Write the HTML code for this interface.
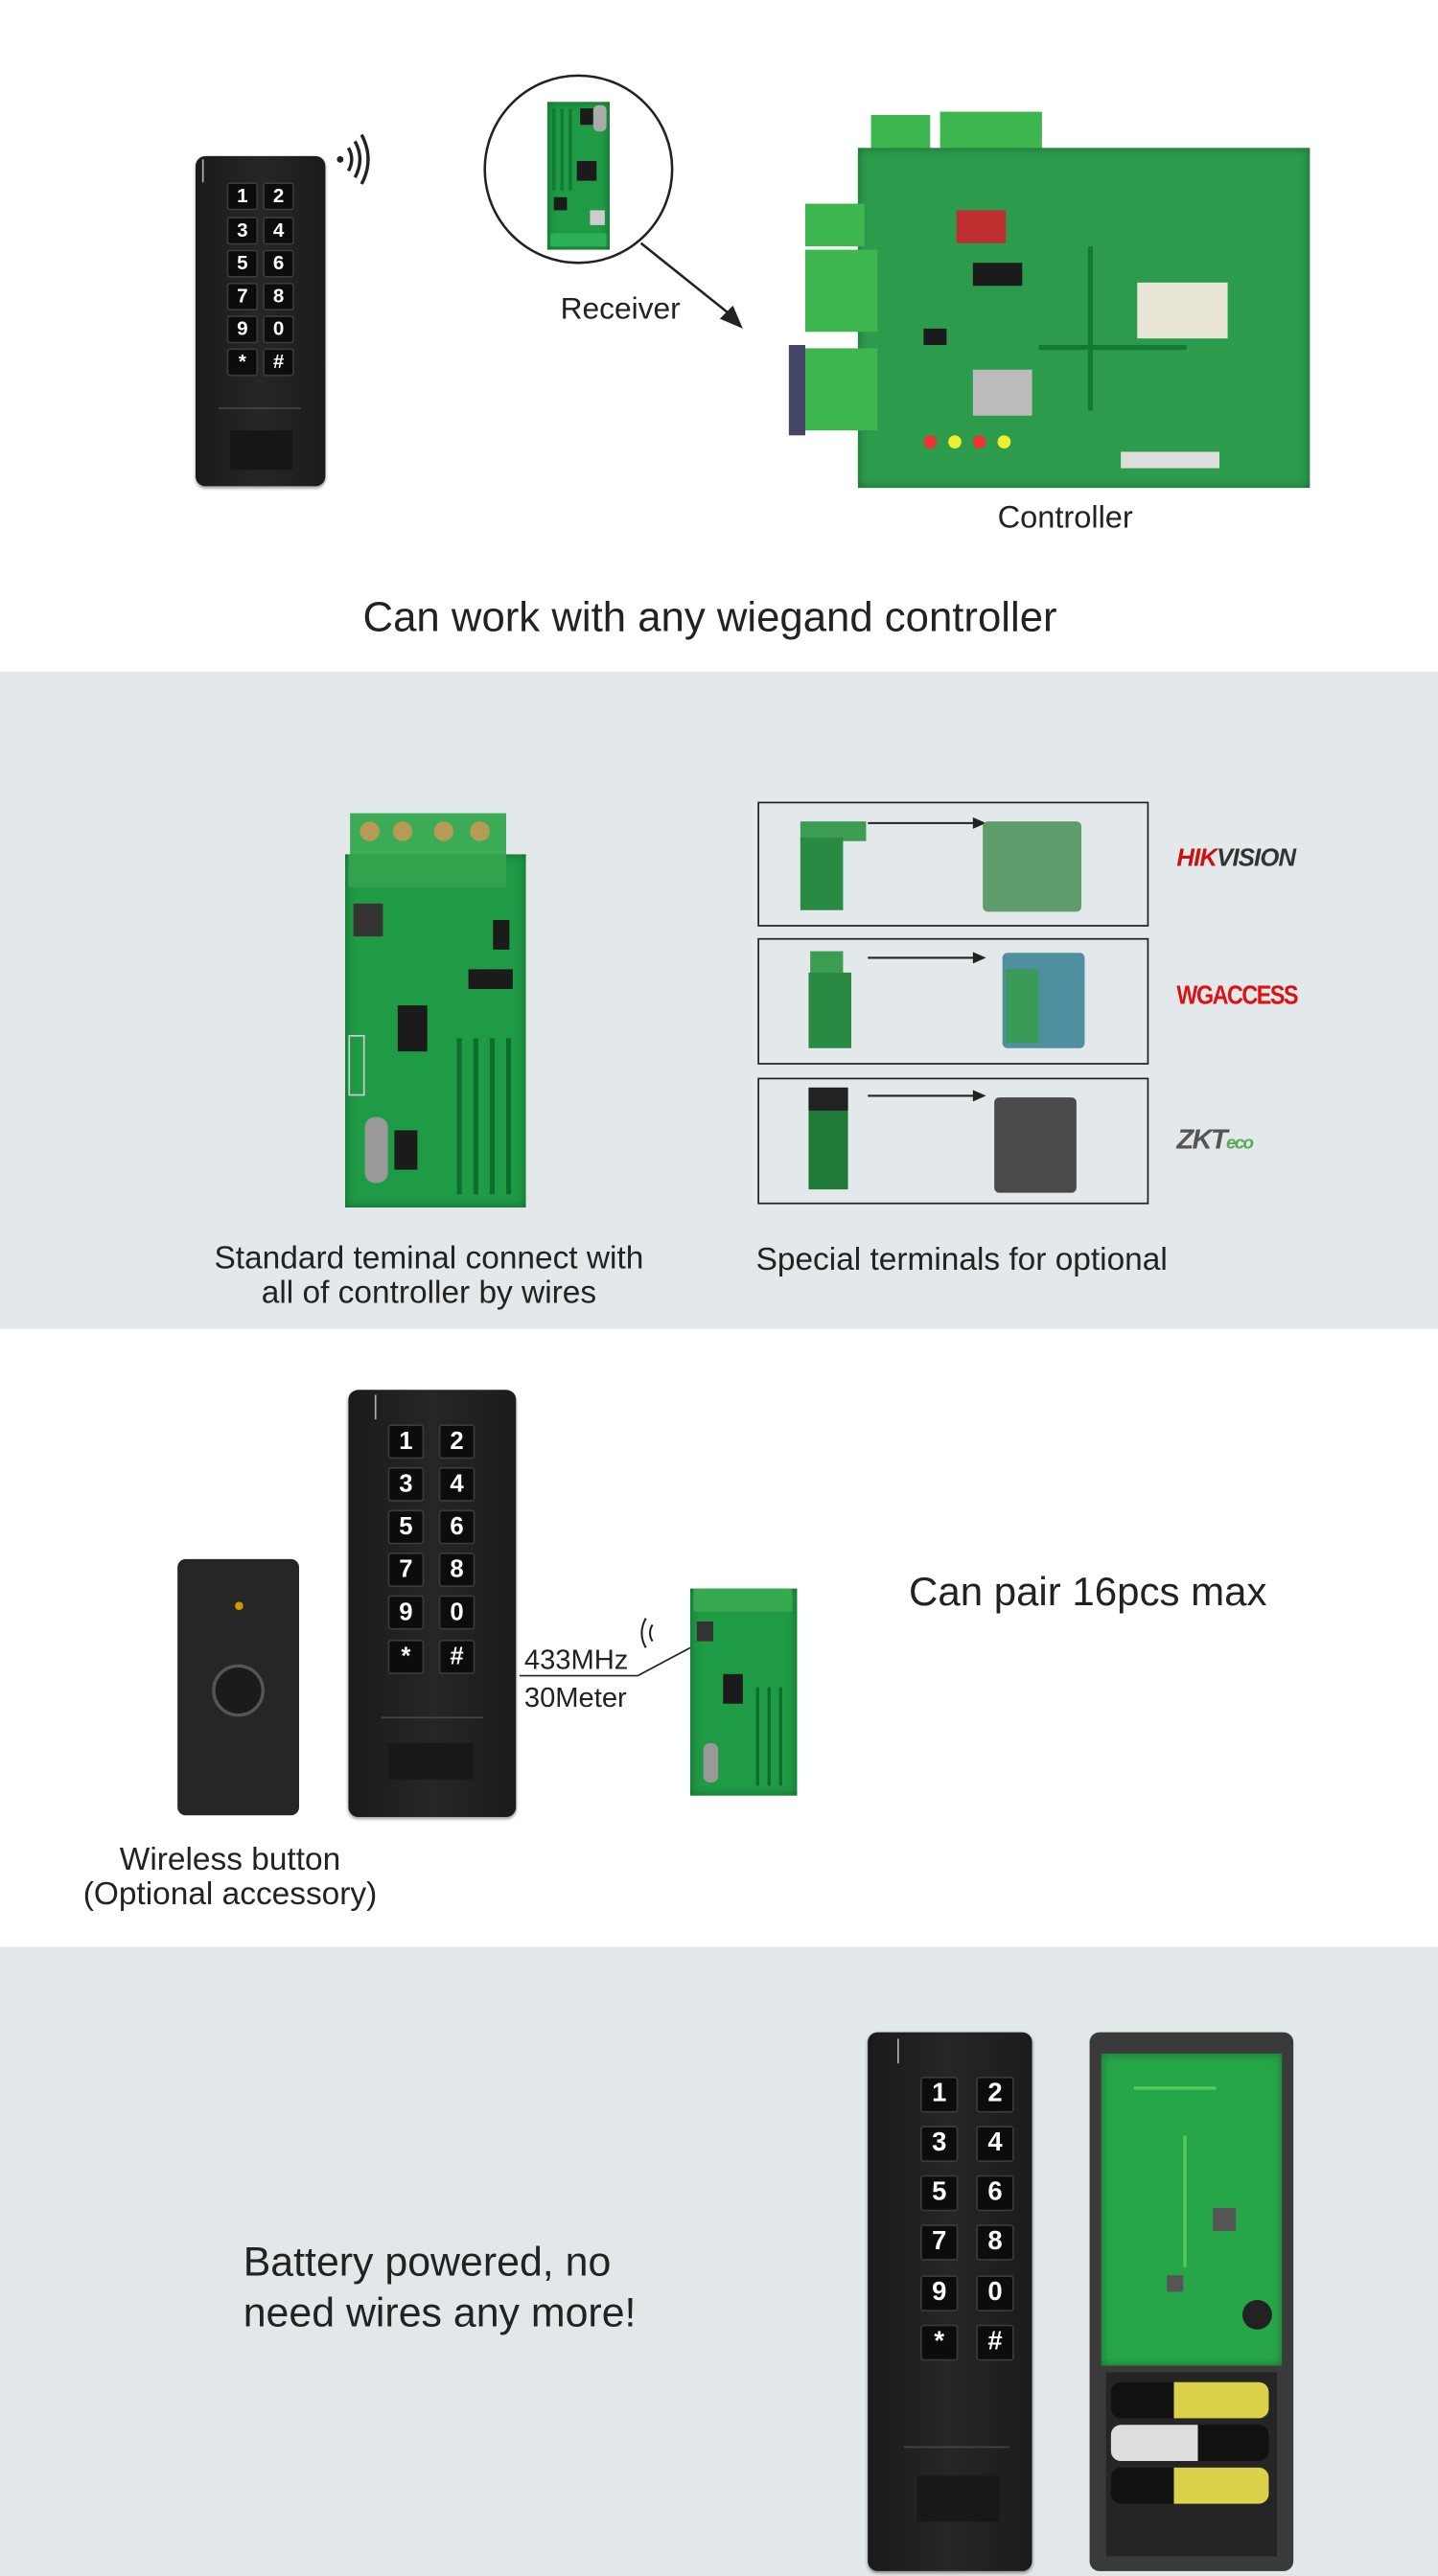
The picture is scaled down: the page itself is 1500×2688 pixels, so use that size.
<!DOCTYPE html>
<html><head><meta charset="utf-8"><style>
html,body{margin:0;padding:0;width:1500px;height:2688px;overflow:hidden;background:#fff}
#r{position:absolute;left:0;top:0;width:875px;height:1568px;transform:scale(1.7142857);transform-origin:0 0;font-family:"Liberation Sans",sans-serif;color:#222}
.a{position:absolute}
.kp{position:absolute;background:linear-gradient(90deg,#1a1a1a,#262626 50%,#1b1b1b);border-radius:6px;box-shadow:0 1px 2px rgba(0,0,0,.4)}
.k{position:absolute;background:#0c0c0c;border:1px solid #3a3a3a;border-radius:2px;color:#fff;font-weight:bold;text-align:center;box-sizing:border-box}
.pcb{position:absolute;background:#1f9a45;box-shadow:inset 0 0 6px rgba(0,0,0,.35)}
.chip{position:absolute;background:#1b1b1b}
.tr{position:absolute;background:#137a33}
.t{position:absolute;white-space:nowrap}
.box{position:absolute;border:1.5px solid #222;box-sizing:border-box}
</style></head><body><div id="r">

<div class="a" style="left:0;top:0;width:875px;height:409px;background:#fff"></div>
<div class="a" style="left:0;top:409px;width:875px;height:400px;background:#e3e8eb"></div>
<div class="a" style="left:0;top:809px;width:875px;height:376px;background:#fff"></div>
<div class="a" style="left:0;top:1185px;width:875px;height:383px;background:#e2e7ea"></div>

<!-- ===== Section 1 ===== -->
<div class="kp" style="left:119px;top:95px;width:79px;height:201px">
  <div class="a" style="left:4px;top:2px;width:1px;height:14px;background:#aaa"></div>
  <div class="k" style="left:19px;top:16px;width:19px;height:17px;font-size:12px;line-height:15px">1</div>
  <div class="k" style="left:41px;top:16px;width:19px;height:17px;font-size:12px;line-height:15px">2</div>
  <div class="k" style="left:19px;top:37px;width:19px;height:17px;font-size:12px;line-height:15px">3</div>
  <div class="k" style="left:41px;top:37px;width:19px;height:17px;font-size:12px;line-height:15px">4</div>
  <div class="k" style="left:19px;top:57px;width:19px;height:17px;font-size:12px;line-height:15px">5</div>
  <div class="k" style="left:41px;top:57px;width:19px;height:17px;font-size:12px;line-height:15px">6</div>
  <div class="k" style="left:19px;top:77px;width:19px;height:17px;font-size:12px;line-height:15px">7</div>
  <div class="k" style="left:41px;top:77px;width:19px;height:17px;font-size:12px;line-height:15px">8</div>
  <div class="k" style="left:19px;top:97px;width:19px;height:17px;font-size:12px;line-height:15px">9</div>
  <div class="k" style="left:41px;top:97px;width:19px;height:17px;font-size:12px;line-height:15px">0</div>
  <div class="k" style="left:19px;top:117px;width:19px;height:17px;font-size:12px;line-height:15px">*</div>
  <div class="k" style="left:41px;top:117px;width:19px;height:17px;font-size:12px;line-height:15px">#</div>
  <div class="a" style="left:14px;top:153px;width:50px;height:1px;background:#444"></div>
  <div class="a" style="left:21px;top:167px;width:38px;height:24px;background:#161616"></div>
</div>
<svg class="a" style="left:200px;top:80px" width="40" height="40" viewBox="0 0 40 40">
  <circle cx="7" cy="17" r="2" fill="#222"/>
  <path d="M12 10 Q16 17 12 24" stroke="#222" stroke-width="2" fill="none"/>
  <path d="M16 6 Q22 17 16 28" stroke="#222" stroke-width="2" fill="none"/>
  <path d="M20 2 Q28 17 20 32" stroke="#222" stroke-width="2" fill="none"/>
</svg>
<svg class="a" style="left:290px;top:44px" width="170" height="170" viewBox="0 0 170 170">
  <circle cx="62" cy="59" r="57" fill="#fff" stroke="#222" stroke-width="1.5"/>
  <line x1="100" y1="104" x2="155" y2="148" stroke="#222" stroke-width="1.5"/>
  <polygon points="162,156 148,150 156,142" fill="#222"/>
</svg>
<div class="pcb" style="left:333px;top:62px;width:38px;height:90px">
  <div class="tr" style="left:3px;top:4px;width:2px;height:50px"></div>
  <div class="tr" style="left:8px;top:4px;width:2px;height:50px"></div>
  <div class="tr" style="left:13px;top:4px;width:2px;height:50px"></div>
  <div class="chip" style="left:20px;top:4px;width:8px;height:10px"></div>
  <div class="a" style="left:28px;top:2px;width:8px;height:16px;background:#aaa;border-radius:3px"></div>
  <div class="chip" style="left:18px;top:36px;width:12px;height:12px"></div>
  <div class="chip" style="left:4px;top:58px;width:8px;height:8px"></div>
  <div class="a" style="left:26px;top:66px;width:9px;height:9px;background:#ccc"></div>
  <div class="a" style="left:2px;top:80px;width:34px;height:8px;background:#2bb055"></div>
</div>
<div class="t" style="left:341px;top:177px;font-size:18.5px">Receiver</div>

<div class="a" style="left:530px;top:70px;width:36px;height:24px;background:#3db64f"></div>
<div class="a" style="left:572px;top:68px;width:62px;height:26px;background:#3db64f"></div>
<div class="a" style="left:578px;top:90px;width:50px;height:22px;background:#2e9c41"></div>
<div class="a" style="left:540px;top:90px;width:20px;height:20px;background:#2e9c41"></div>
<div class="pcb" style="left:522px;top:90px;width:275px;height:207px;background:#2c9b4c">
  <div class="a" style="left:170px;top:82px;width:55px;height:34px;background:#e8e5d6"></div>
  <div class="a" style="left:70px;top:135px;width:36px;height:28px;background:#bbb"></div>
  <div class="chip" style="left:70px;top:70px;width:30px;height:14px"></div>
  <div class="chip" style="left:40px;top:110px;width:14px;height:10px"></div>
  <div class="a" style="left:60px;top:38px;width:30px;height:20px;background:#bd2f2f"></div>
  <div class="tr" style="left:110px;top:120px;width:90px;height:3px"></div>
  <div class="tr" style="left:140px;top:60px;width:3px;height:100px"></div>
  <div class="a" style="left:160px;top:185px;width:60px;height:10px;background:#ddd"></div>
  <div class="a" style="left:40px;top:175px;width:8px;height:8px;background:#e33;border-radius:50%"></div>
  <div class="a" style="left:55px;top:175px;width:8px;height:8px;background:#ee3;border-radius:50%"></div>
  <div class="a" style="left:70px;top:175px;width:8px;height:8px;background:#e33;border-radius:50%"></div>
  <div class="a" style="left:85px;top:175px;width:8px;height:8px;background:#ee3;border-radius:50%"></div>
</div>
<div class="a" style="left:490px;top:124px;width:36px;height:26px;background:#3db64f"></div>
<div class="a" style="left:490px;top:152px;width:44px;height:50px;background:#3db64f"></div>
<div class="a" style="left:490px;top:212px;width:44px;height:50px;background:#3db64f"></div>
<div class="a" style="left:480px;top:210px;width:10px;height:55px;background:#446"></div>
<div class="t" style="left:607px;top:305px;font-size:19px">Controller</div>
<div class="t" style="left:0;top:362px;width:864px;text-align:center;font-size:25.5px">Can work with any wiegand controller</div>

<!-- ===== Section 2 ===== -->
<div class="a" style="left:213px;top:495px;width:95px;height:26px;background:#3cab55"></div>
<div class="a" style="left:219px;top:500px;width:12px;height:12px;border-radius:50%;background:#b59b55"></div>
<div class="a" style="left:239px;top:500px;width:12px;height:12px;border-radius:50%;background:#b59b55"></div>
<div class="a" style="left:264px;top:500px;width:12px;height:12px;border-radius:50%;background:#b59b55"></div>
<div class="a" style="left:286px;top:500px;width:12px;height:12px;border-radius:50%;background:#b59b55"></div>
<div class="pcb" style="left:210px;top:520px;width:110px;height:215px">
  <div class="a" style="left:2px;top:0;width:96px;height:20px;background:#32a34c"></div>
  <div class="chip" style="left:5px;top:30px;width:18px;height:20px;background:#333"></div>
  <div class="chip" style="left:32px;top:92px;width:18px;height:28px"></div>
  <div class="chip" style="left:75px;top:70px;width:14px;height:12px"></div>
  <div class="chip" style="left:88px;top:70px;width:14px;height:12px"></div>
  <div class="chip" style="left:90px;top:40px;width:10px;height:18px"></div>
  <div class="tr" style="left:68px;top:112px;width:3px;height:95px;background:#0d6e2b"></div>
  <div class="tr" style="left:78px;top:112px;width:3px;height:95px;background:#0d6e2b"></div>
  <div class="tr" style="left:88px;top:112px;width:3px;height:95px;background:#0d6e2b"></div>
  <div class="tr" style="left:98px;top:112px;width:3px;height:95px;background:#0d6e2b"></div>
  <div class="a" style="left:12px;top:160px;width:14px;height:40px;background:#999;border-radius:6px"></div>
  <div class="chip" style="left:30px;top:168px;width:14px;height:24px"></div>
  <div class="a" style="left:2px;top:110px;width:8px;height:35px;border:1px solid #ccc"></div>
</div>
<div class="t" style="left:111px;top:756px;width:300px;text-align:center;font-size:19.5px;line-height:21px">Standard teminal connect with<br>all of controller by wires</div>

<div class="box" style="left:461px;top:488px;width:238px;height:76px"></div>
<div class="box" style="left:461px;top:571px;width:238px;height:77px"></div>
<div class="box" style="left:461px;top:656px;width:238px;height:77px"></div>
<div class="a" style="left:487px;top:500px;width:40px;height:12px;background:#3c9d52"></div>
<div class="a" style="left:487px;top:510px;width:26px;height:44px;background:#2a8a44"></div>
<svg class="a" style="left:528px;top:495px" width="75" height="12"><line x1="0" y1="6" x2="66" y2="6" stroke="#222" stroke-width="1.2"/><polygon points="72,6 64,2.5 64,9.5" fill="#222"/></svg>
<div class="a" style="left:598px;top:500px;width:60px;height:55px;background:#5f9c6c;border-radius:3px"></div>
<div class="t" style="left:716px;top:514px;font-size:15px;font-weight:bold;font-style:italic;color:#c11;letter-spacing:-0.5px">HIK<span style="color:#333">VISION</span></div>
<div class="a" style="left:493px;top:579px;width:20px;height:15px;background:#3c9d52"></div>
<div class="a" style="left:492px;top:592px;width:26px;height:46px;background:#2a8a44"></div>
<svg class="a" style="left:528px;top:577px" width="75" height="12"><line x1="0" y1="6" x2="66" y2="6" stroke="#222" stroke-width="1.2"/><polygon points="72,6 64,2.5 64,9.5" fill="#222"/></svg>
<div class="a" style="left:610px;top:580px;width:50px;height:58px;background:#4f8fa0;border-radius:3px"></div>
<div class="a" style="left:612px;top:590px;width:20px;height:45px;background:#3a9a58"></div>
<div class="t" style="left:716px;top:598px;font-size:16px;font-weight:bold;color:#d11;letter-spacing:-1px;transform:scaleX(0.85);transform-origin:0 0">WGACCESS</div>
<div class="a" style="left:492px;top:662px;width:24px;height:62px;background:#1f7a3a"></div>
<div class="a" style="left:492px;top:662px;width:24px;height:14px;background:#222"></div>
<svg class="a" style="left:528px;top:661px" width="75" height="12"><line x1="0" y1="6" x2="66" y2="6" stroke="#222" stroke-width="1.2"/><polygon points="72,6 64,2.5 64,9.5" fill="#222"/></svg>
<div class="a" style="left:605px;top:668px;width:50px;height:58px;background:#4a4a4a;border-radius:3px"></div>
<div class="t" style="left:716px;top:684px;font-size:17px;font-weight:bold;font-style:italic;color:#555;letter-spacing:-1px">ZKT<span style="color:#5a5;font-size:11px">eco</span></div>
<div class="t" style="left:460px;top:756px;font-size:19.5px">Special terminals for optional</div>

<!-- ===== Section 3 ===== -->
<div class="a" style="left:108px;top:949px;width:74px;height:156px;background:#262626;border-radius:5px"></div>
<div class="a" style="left:143px;top:975px;width:5px;height:5px;border-radius:50%;background:#c90"></div>
<div class="a" style="left:129px;top:1013px;width:28px;height:28px;border-radius:50%;background:#1b1b1b;border:2px solid #555"></div>
<div class="kp" style="left:212px;top:846px;width:102px;height:260px">
  <div class="a" style="left:16px;top:3px;width:1px;height:15px;background:#aaa"></div>
  <div class="k" style="left:24px;top:21px;width:22px;height:21px;font-size:15px;line-height:19px">1</div>
  <div class="k" style="left:55px;top:21px;width:22px;height:21px;font-size:15px;line-height:19px">2</div>
  <div class="k" style="left:24px;top:47px;width:22px;height:21px;font-size:15px;line-height:19px">3</div>
  <div class="k" style="left:55px;top:47px;width:22px;height:21px;font-size:15px;line-height:19px">4</div>
  <div class="k" style="left:24px;top:73px;width:22px;height:21px;font-size:15px;line-height:19px">5</div>
  <div class="k" style="left:55px;top:73px;width:22px;height:21px;font-size:15px;line-height:19px">6</div>
  <div class="k" style="left:24px;top:99px;width:22px;height:21px;font-size:15px;line-height:19px">7</div>
  <div class="k" style="left:55px;top:99px;width:22px;height:21px;font-size:15px;line-height:19px">8</div>
  <div class="k" style="left:24px;top:125px;width:22px;height:21px;font-size:15px;line-height:19px">9</div>
  <div class="k" style="left:55px;top:125px;width:22px;height:21px;font-size:15px;line-height:19px">0</div>
  <div class="k" style="left:24px;top:152px;width:22px;height:21px;font-size:15px;line-height:19px">*</div>
  <div class="k" style="left:55px;top:152px;width:22px;height:21px;font-size:15px;line-height:19px">#</div>
  <div class="a" style="left:20px;top:199px;width:62px;height:1px;background:#444"></div>
  <div class="a" style="left:24px;top:215px;width:52px;height:22px;background:#181818"></div>
</div>
<svg class="a" style="left:316px;top:975px" width="110" height="50">
  <path d="M81 14 Q78 19 81 24" stroke="#222" stroke-width="1.2" fill="none"/>
  <path d="M77 10 Q72 19 77 28" stroke="#222" stroke-width="1.2" fill="none"/>
  <line x1="0" y1="45" x2="72" y2="45" stroke="#222" stroke-width="1"/>
  <line x1="72" y1="45" x2="104" y2="28" stroke="#222" stroke-width="1"/>
</svg>
<div class="t" style="left:319px;top:1001px;font-size:17px">433MHz</div>
<div class="t" style="left:319px;top:1024px;font-size:17px">30Meter</div>
<div class="pcb" style="left:420px;top:967px;width:65px;height:126px">
  <div class="a" style="left:2px;top:0;width:60px;height:14px;background:#36a850"></div>
  <div class="chip" style="left:4px;top:20px;width:10px;height:12px;background:#333"></div>
  <div class="chip" style="left:20px;top:52px;width:12px;height:18px"></div>
  <div class="tr" style="left:40px;top:60px;width:2px;height:60px;background:#0d6e2b"></div>
  <div class="tr" style="left:47px;top:60px;width:2px;height:60px;background:#0d6e2b"></div>
  <div class="tr" style="left:54px;top:60px;width:2px;height:60px;background:#0d6e2b"></div>
  <div class="a" style="left:8px;top:94px;width:9px;height:24px;background:#999;border-radius:4px"></div>
</div>
<div class="t" style="left:553px;top:956px;font-size:24.5px">Can pair 16pcs max</div>
<div class="t" style="left:30px;top:1122px;width:220px;text-align:center;font-size:19.5px;line-height:21px">Wireless button<br>(Optional accessory)</div>

<!-- ===== Section 4 ===== -->
<div class="kp" style="left:528px;top:1237px;width:100px;height:328px">
  <div class="a" style="left:18px;top:4px;width:1px;height:15px;background:#aaa"></div>
  <div class="k" style="left:32px;top:27px;width:23px;height:22px;font-size:16px;line-height:20px">1</div>
  <div class="k" style="left:66px;top:27px;width:23px;height:22px;font-size:16px;line-height:20px">2</div>
  <div class="k" style="left:32px;top:57px;width:23px;height:22px;font-size:16px;line-height:20px">3</div>
  <div class="k" style="left:66px;top:57px;width:23px;height:22px;font-size:16px;line-height:20px">4</div>
  <div class="k" style="left:32px;top:87px;width:23px;height:22px;font-size:16px;line-height:20px">5</div>
  <div class="k" style="left:66px;top:87px;width:23px;height:22px;font-size:16px;line-height:20px">6</div>
  <div class="k" style="left:32px;top:117px;width:23px;height:22px;font-size:16px;line-height:20px">7</div>
  <div class="k" style="left:66px;top:117px;width:23px;height:22px;font-size:16px;line-height:20px">8</div>
  <div class="k" style="left:32px;top:148px;width:23px;height:22px;font-size:16px;line-height:20px">9</div>
  <div class="k" style="left:66px;top:148px;width:23px;height:22px;font-size:16px;line-height:20px">0</div>
  <div class="k" style="left:32px;top:178px;width:23px;height:22px;font-size:16px;line-height:20px">*</div>
  <div class="k" style="left:66px;top:178px;width:23px;height:22px;font-size:16px;line-height:20px">#</div>
  <div class="a" style="left:22px;top:252px;width:64px;height:1px;background:#444"></div>
  <div class="a" style="left:30px;top:270px;width:50px;height:28px;background:#181818"></div>
</div>
<div class="a" style="left:663px;top:1237px;width:124px;height:328px;background:#3a3a3a;border-radius:6px"></div>
<div class="pcb" style="left:670px;top:1250px;width:110px;height:190px;background:#27a649">
  <div class="chip" style="left:68px;top:94px;width:14px;height:14px;background:#555"></div>
  <div class="chip" style="left:40px;top:135px;width:10px;height:10px;background:#555"></div>
  <div class="a" style="left:86px;top:150px;width:18px;height:18px;border-radius:50%;background:#222"></div>
  <div class="tr" style="left:20px;top:20px;width:50px;height:2px;background:#5c5"></div>
  <div class="tr" style="left:50px;top:50px;width:2px;height:80px;background:#5c5"></div>
</div>
<div class="a" style="left:673px;top:1444px;width:104px;height:112px;background:#252525"></div>
<div class="a" style="left:676px;top:1450px;width:96px;height:22px;background:linear-gradient(90deg,#111 0 40%,#dcd14a 40% 100%);border-radius:6px"></div>
<div class="a" style="left:676px;top:1476px;width:96px;height:22px;background:linear-gradient(90deg,#ddd 0 55%,#111 55% 100%);border-radius:6px"></div>
<div class="a" style="left:676px;top:1502px;width:96px;height:22px;background:linear-gradient(90deg,#111 0 40%,#dcd14a 40% 100%);border-radius:6px"></div>
<div class="t" style="left:148px;top:1362px;font-size:25px;line-height:31px">Battery powered, no<br>need wires any more!</div>

</div></body></html>
